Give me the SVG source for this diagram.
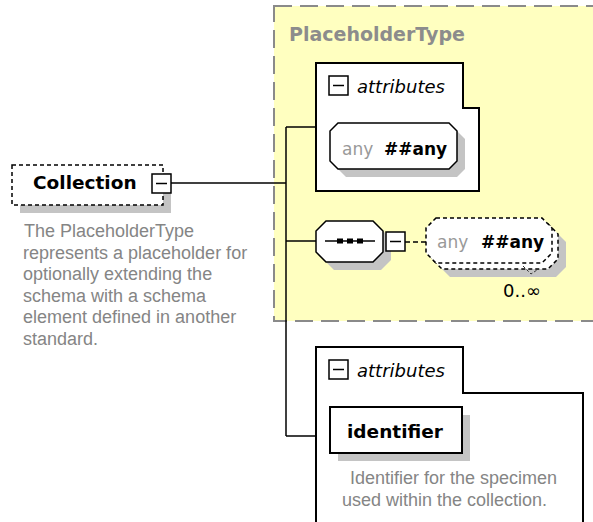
<svg xmlns="http://www.w3.org/2000/svg" width="593" height="522" viewBox="0 0 593 522">
<style>
.box{fill:#fff;stroke:#000;stroke-width:2}
.thin{fill:#fff;stroke:#000;stroke-width:1.5}
.shadow{fill:#c4c4c4;stroke:none}
.icon{fill:#fff;stroke:#000;stroke-width:1.5}
.line{fill:none;stroke:#000;stroke-width:1.5}
.dash{fill:#fff;stroke:#000;stroke-width:1.5;stroke-dasharray:4,3}
.name{font-family:"DejaVu Sans",sans-serif;font-weight:bold;font-size:18.5px;fill:#000}
.lbl{font-family:"DejaVu Sans",sans-serif;font-style:italic;font-size:18px;fill:#000}
.desc{font-family:"Liberation Sans",Arial,sans-serif;font-size:18px;fill:#858585}
.any{font-family:"DejaVu Sans",sans-serif;font-size:17px;fill:#999}
.anyb{font-family:"DejaVu Sans",sans-serif;font-weight:bold;font-size:17px;fill:#000}
</style>
<defs>
<g id="minus"><rect x="0" y="0" width="19" height="19" class="icon"/><line x1="4" y1="9.5" x2="15" y2="9.5" stroke="#000" stroke-width="1.5"/></g>
</defs>

<g id="placeholderType">
<rect x="274" y="6" width="330" height="315" fill="#ffffc0" stroke="#8a8a8a" stroke-width="2" stroke-dasharray="18,8"/>
<text x="289" y="41" font-family="DejaVu Sans,sans-serif" font-weight="bold" font-size="19" fill="#8c8c8c">PlaceholderType</text>
</g>

<g id="connectors">
<line x1="171" y1="183" x2="286" y2="183" class="line"/>
<line x1="286" y1="127" x2="286" y2="436" class="line"/>
<line x1="286" y1="127" x2="316" y2="127" class="line"/>
<line x1="286" y1="241" x2="316" y2="241" class="line"/>
<line x1="286" y1="436" x2="316" y2="436" class="line"/>
<line x1="405" y1="242" x2="426" y2="242" stroke="#000" stroke-width="1.5" stroke-dasharray="5,3"/>
</g>

<g id="collection">
<rect x="20" y="173" width="151" height="40" class="shadow"/>
<rect x="12" y="165" width="151" height="40" class="dash"/>
<text x="33" y="189" class="name">Collection</text>
<use href="#minus" x="152" y="174"/>
<text class="desc">
<tspan x="24" y="237">The PlaceholderType</tspan>
<tspan x="23" y="258.5">represents a placeholder for</tspan>
<tspan x="23" y="280">optionally extending the</tspan>
<tspan x="23" y="301.5">schema with a schema</tspan>
<tspan x="23" y="323">element defined in another</tspan>
<tspan x="23" y="344.5">standard.</tspan>
</text>
</g>

<g id="attributes1">
<path d="M316,63 H463 V108 H479 V191 H316 Z" class="box"/>
<use href="#minus" x="329" y="76"/>
<text x="357" y="93" class="lbl">attributes</text>
</g>

<g id="anyAttr">
<path d="M338,123 H449 L457,131 V161 L449,169 H338 L330,161 V131 Z" class="shadow" transform="translate(8,8)"/>
<path d="M338,123 H449 L457,131 V161 L449,169 H338 L330,161 V131 Z" class="thin"/>
<text x="342" y="155" class="any">any</text>
<text x="384" y="155" class="anyb">##any</text>
</g>

<g id="sequence">
<path d="M326,221 H373 L383,231 V252 L373,262 H326 L316,252 V231 Z" class="shadow" transform="translate(8,8)"/>
<path d="M326,221 H373 L383,231 V252 L373,262 H326 L316,252 V231 Z" class="thin"/>
<line x1="325" y1="241" x2="375" y2="241" stroke="#000" stroke-width="1.5"/>
<rect x="337" y="238.5" width="6" height="5" fill="#000"/>
<rect x="347" y="238.5" width="6" height="5" fill="#000"/>
<rect x="357" y="238.5" width="6" height="5" fill="#000"/>
<use href="#minus" x="386" y="232"/>
</g>

<g id="anyElement">
<path d="M436,218 H542 L552,228 V253 L542,263 H436 L426,253 V228 Z" class="shadow" transform="translate(14,14)"/>
<path d="M436,218 H542 L552,228 V253 L542,263 H436 L426,253 V228 Z" class="dash" transform="translate(6,6)"/>
<path d="M436,218 H542 L552,228 V253 L542,263 H436 L426,253 V228 Z" class="dash"/>
<polyline points="523,266 531,274 537,270" fill="none" stroke="#333" stroke-width="1" stroke-dasharray="3,2"/>
<text x="437" y="248" class="any">any</text>
<text x="481" y="248" class="anyb">##any</text>
<text x="503" y="297" font-family="DejaVu Sans,sans-serif" font-size="18" fill="#000">0..∞</text>
</g>

<g id="attributes2">
<path d="M316,530 V347 H463 V393 H583 V530" class="box"/>
<use href="#minus" x="329" y="360"/>
<text x="357" y="377" class="lbl">attributes</text>
</g>

<g id="identifier">
<rect x="338" y="415" width="132" height="46" class="shadow"/>
<rect x="330" y="407" width="132" height="46" class="box"/>
<text x="347" y="438" class="name" font-size="19">identifier</text>
<text class="desc">
<tspan x="350" y="484">Identifier for the specimen</tspan>
<tspan x="342" y="506">used within the collection.</tspan>
</text>
</g>
</svg>
